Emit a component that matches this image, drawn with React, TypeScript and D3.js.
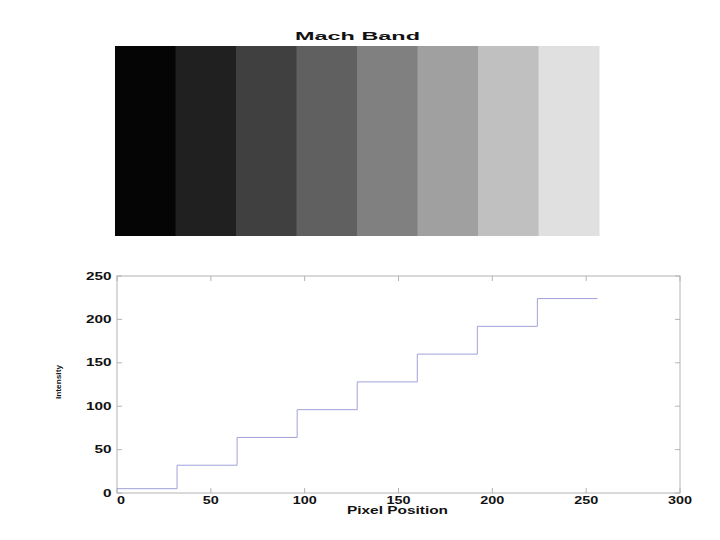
import React from "react";
import * as d3 from "d3";

const bandLevels = [5, 32, 64, 96, 128, 160, 192, 224];
const pixelsPerBand = 32;
const xTicks = [0, 50, 100, 150, 200, 250, 300];
const yTicks = [0, 50, 100, 150, 200, 250];

export default function App() {
  const W = 720, H = 540;
  const img = { x0: 115, x1: 599, y0: 46, y1: 236 };
  const plot = { x0: 117, x1: 680, y0: 276, y1: 493 };

  const ix = d3.scaleLinear().domain([0, bandLevels.length * pixelsPerBand]).range([img.x0, img.x1]);
  const x = d3.scaleLinear().domain([0, 300]).range([plot.x0, plot.x1]);
  const y = d3.scaleLinear().domain([0, 250]).range([plot.y1, plot.y0]);

  const pts: [number, number][] = [];
  bandLevels.forEach((v, i) => {
    pts.push([i * pixelsPerBand, v]);
    pts.push([(i + 1) * pixelsPerBand, v]);
  });
  const line = d3.line<[number, number]>().x(d => x(d[0])).y(d => y(d[1]));
  const gray = "#b4b4b4";
  const font = "Liberation Sans, Arial, sans-serif";
  const tw = "bold";
  const tc = "#111";

  return (
    <svg width={W} height={H} style={{ position: "absolute", left: 0, top: 0 }}>
      <rect width={W} height={H} fill="#fff" />
      <text x={357.5} y={39.5} textAnchor="middle" fontFamily={font} fontSize={11} fontWeight={tw} fill={tc} textLength={125} lengthAdjust="spacingAndGlyphs">Mach Band</text>
      {bandLevels.map((v, i) => (
        <rect key={i} x={ix(i * pixelsPerBand)} y={img.y0} width={ix((i + 1) * pixelsPerBand) - ix(i * pixelsPerBand) + 0.5}
          height={img.y1 - img.y0} fill={d3.rgb(v, v, v).toString()} />
      ))}
      <rect x={plot.x0} y={plot.y0} width={plot.x1 - plot.x0} height={plot.y1 - plot.y0} fill="none" stroke={gray} strokeWidth={1} />
      {xTicks.map(t => (
        <g key={"x" + t}>
          <line x1={x(t)} x2={x(t)} y1={plot.y1} y2={plot.y1 - 5} stroke={gray} />
          <line x1={x(t)} x2={x(t)} y1={plot.y0} y2={plot.y0 + 5} stroke={gray} />
          <text x={x(t) + (t === 0 ? 4 : 0)} y={503.5} textAnchor="middle" fontFamily={font} fontSize={10} fontWeight={tw} fill={tc}
            textLength={String(t).length * 8} lengthAdjust="spacingAndGlyphs">{t}</text>
        </g>
      ))}
      {yTicks.map(t => (
        <g key={"y" + t}>
          <line x1={plot.x0} x2={plot.x0 + 5} y1={y(t)} y2={y(t)} stroke={gray} />
          <line x1={plot.x1} x2={plot.x1 - 5} y1={y(t)} y2={y(t)} stroke={gray} />
          <text x={111.5} y={y(t) + 3.5} textAnchor="end" fontFamily={font} fontSize={10} fontWeight={tw} fill={tc}
            textLength={String(t).length * 8.5} lengthAdjust="spacingAndGlyphs">{t}</text>
        </g>
      ))}
      <path d={line(pts) || ""} fill="none" stroke="#a0a0dc" strokeWidth={1} />
      <text x={397.5} y={513.5} textAnchor="middle" fontFamily={font} fontSize={10} fontWeight={tw} fill={tc} textLength={101} lengthAdjust="spacingAndGlyphs">Pixel Position</text>
      <text transform="translate(61,382) rotate(-90)" textAnchor="middle" fontFamily={font} fontSize={8} fontWeight={tw} fill={tc} textLength={34} lengthAdjust="spacingAndGlyphs">Intensity</text>
    </svg>
  );
}
